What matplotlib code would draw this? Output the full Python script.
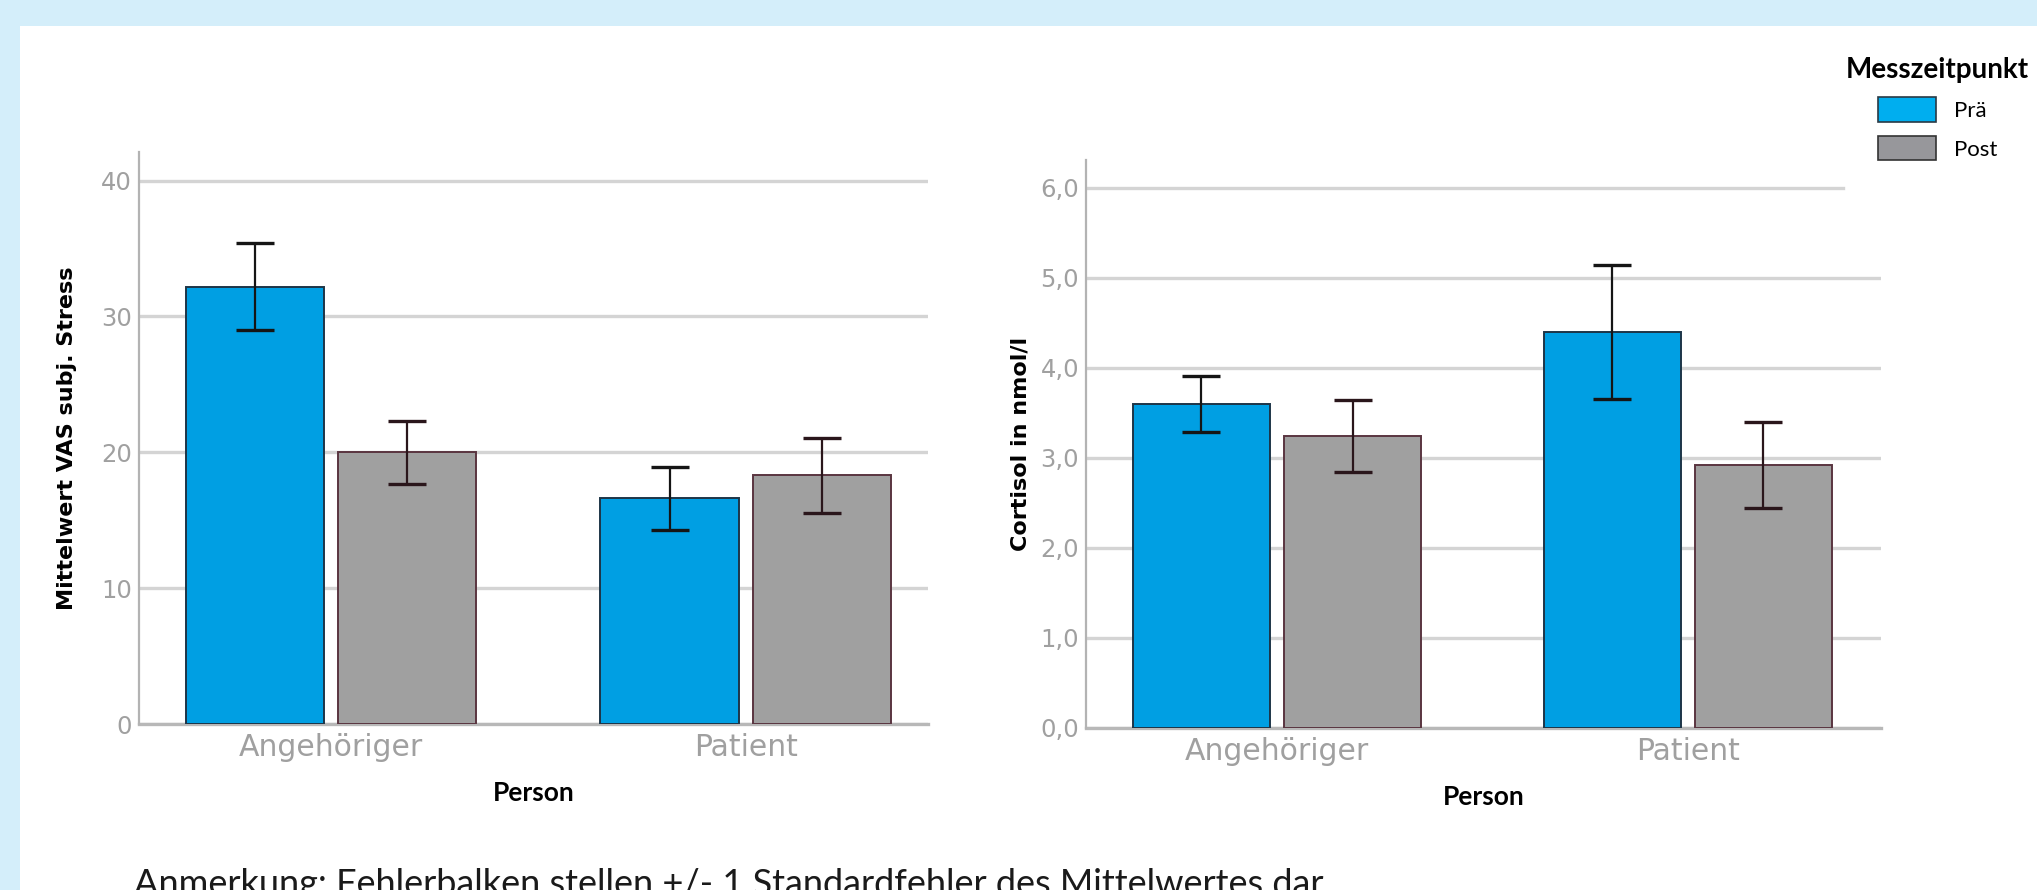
import matplotlib
matplotlib.use("Agg")
import matplotlib.pyplot as plt
from matplotlib.patches import Rectangle, Patch
import numpy as np

# ---------------- data ----------------
categories = ["Angehöriger", "Patient"]
series_names = ["Prä", "Post"]

stress_pre = [32.2, 16.6]
stress_pre_se = [3.2, 2.3]
stress_post = [20.0, 18.3]
stress_post_se = [2.3, 2.75]

cortisol_pre = [3.60, 4.40]
cortisol_pre_se = [0.31, 0.74]
cortisol_post = [3.24, 2.92]
cortisol_post_se = [0.40, 0.48]

stress_ticks = [0, 10, 20, 30, 40]
stress_ticklabels = ["0", "10", "20", "30", "40"]
cortisol_ticks = [0.0, 1.0, 2.0, 3.0, 4.0, 5.0, 6.0]
cortisol_ticklabels = ["0,0", "1,0", "2,0", "3,0", "4,0", "5,0", "6,0"]

stress_ylabel = "Mittelwert VAS subj. Stress"
cortisol_ylabel = "Cortisol in nmol/l"
xlabel = "Person"
legend_title = "Messzeitpunkt"
note = "Anmerkung: Fehlerbalken stellen +/- 1 Standardfehler des Mittelwertes dar"

# ---------------- style ----------------
W, H = 2037, 890
BLUE = "#009FE3"
BLUE_EDGE = "#1d3547"
GRAY = "#A0A0A0"
GRAY_EDGE = "#5a3540"
ERR_PRE = "#151515"
ERR_POST = "#2a161b"
GRID = "#d4d4d4"
TICKC = "#a0a0a0"

plt.rcParams["font.family"] = ["Lato", "DejaVu Sans"]

fig = plt.figure(figsize=(W / 100, H / 100), dpi=100)
fig.patch.set_facecolor("#D4EEFA")
fig.add_artist(Rectangle((20 / W, 0), 1 - 20 / W, 1 - 26 / H,
                         transform=fig.transFigure, facecolor="white",
                         edgecolor="none", zorder=-1))


def px_axes(x0, y_top, x1, y_bot):
    return fig.add_axes([x0 / W, 1 - y_bot / H, (x1 - x0) / W, (y_bot - y_top) / H])


def draw_panel(ax, pre, pre_se, post, post_se, ticks, ticklabels, ylim, xlim,
               ylabel, ylabel_x, grid_xmax_top=1.0):
    x = np.arange(len(categories))
    w = 0.333
    off = 0.184
    ax.set_facecolor("none")
    for i, t in enumerate(ticks):
        xm = grid_xmax_top if i == len(ticks) - 1 else 1.0
        ax.axhline(t, xmin=0, xmax=xm, color=GRID, lw=2.4, zorder=1)
    ax.bar(x - off, pre, w, color=BLUE, edgecolor=BLUE_EDGE, linewidth=1.4, zorder=3)
    ax.bar(x + off, post, w, color=GRAY, edgecolor=GRAY_EDGE, linewidth=1.4, zorder=3)
    ax.errorbar(x - off, pre, yerr=pre_se, fmt="none", ecolor=ERR_PRE,
                elinewidth=1.6, capsize=13.5, capthick=2.4, zorder=4)
    ax.errorbar(x + off, post, yerr=post_se, fmt="none", ecolor=ERR_POST,
                elinewidth=1.6, capsize=13.5, capthick=2.4, zorder=4)
    ax.set_ylim(*ylim)
    ax.set_xlim(*xlim)
    ax.set_yticks(ticks)
    ax.set_yticklabels(ticklabels, family="DejaVu Sans", fontsize=17.5,
                       color=TICKC)
    ax.set_xticks(x)
    ax.set_xticklabels(categories, family="DejaVu Sans", fontsize=21.5,
                       color=TICKC)
    for s in ["top", "right"]:
        ax.spines[s].set_visible(False)
    ax.spines["left"].set_color("#b3b3b3")
    ax.spines["left"].set_linewidth(1.6)
    ax.spines["bottom"].set_color("#b8b8b8")
    ax.spines["bottom"].set_linewidth(2.4)
    ax.spines["bottom"].set_zorder(2)
    ax.tick_params(axis="both", length=0)
    ax.tick_params(axis="y", pad=5)
    ax.tick_params(axis="x", pad=6.5)
    ax.set_ylabel(ylabel, fontsize=16, fontweight="bold", color="black",
                  family="DejaVu Sans")
    ax.yaxis.set_label_coords(ylabel_x, 0.5)
    ax.set_xlabel(xlabel, fontsize=19, fontweight="bold", color="black")
    ax.xaxis.set_label_coords(0.5, -0.10)


ax1 = px_axes(139, 152, 928, 724)
draw_panel(ax1, stress_pre, stress_pre_se, stress_post, stress_post_se,
           stress_ticks, stress_ticklabels, (0, 42.1), (-0.463, 1.439),
           stress_ylabel, -0.0786)

ax2 = px_axes(1086, 160, 1881, 728)
draw_panel(ax2, cortisol_pre, cortisol_pre_se, cortisol_post, cortisol_post_se,
           cortisol_ticks, cortisol_ticklabels, (0, 6.31), (-0.465, 1.47),
           cortisol_ylabel, -0.0704, grid_xmax_top=0.952)

handles = [Patch(facecolor="#00AEEF", edgecolor="#2a3a45", linewidth=1.2),
           Patch(facecolor="#97979b", edgecolor="#333333", linewidth=1.2)]
leg = fig.legend(handles=handles, labels=series_names, title=legend_title,
                 loc="upper right", bbox_to_anchor=(2029 / W, 1 - 57 / H),
                 frameon=False, fontsize=16,
                 title_fontproperties={"weight": "bold", "size": 20},
                 handlelength=2.6, handleheight=1.3, labelspacing=0.65,
                 handletextpad=0.8, borderpad=0, borderaxespad=0)

fig.text(134 / W, 1 - 895 / H, note, fontsize=26, ha="left", va="baseline",
         color="#1a1a1a")

fig.savefig("out.png", dpi=100, facecolor=fig.get_facecolor())
